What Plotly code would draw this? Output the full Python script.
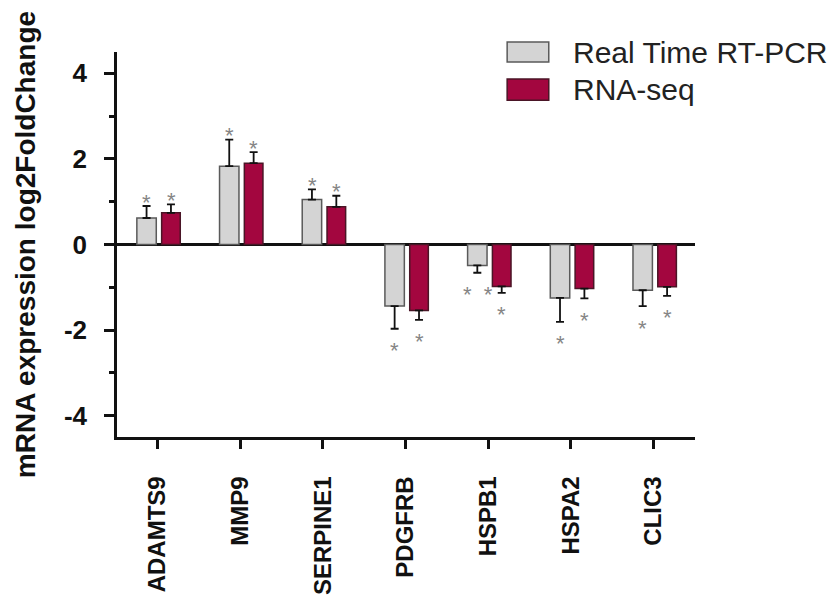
import plotly.graph_objects as go

genes = ["ADAMTS9", "MMP9", "SERPINE1", "PDGFRB", "HSPB1", "HSPA2", "CLIC3"]
rt_pcr = [0.62, 1.83, 1.05, -1.44, -0.49, -1.25, -1.07]
rt_pcr_err = [0.28, 0.62, 0.24, 0.53, 0.17, 0.56, 0.37]
rna_seq = [0.74, 1.90, 0.88, -1.54, -0.98, -1.03, -0.99]
rna_seq_err = [0.20, 0.26, 0.26, 0.22, 0.15, 0.23, 0.21]
rt_pcr_sig = ["*", "*", "*", "*", "*\u00a0\u00a0*", "*", "*"]
rna_seq_sig = ["*", "*", "*", "*", "*", "*", "*"]
y_tick_vals = [-4, -2, 0, 2, 4]
y_tick_text = ["-4", "-2", "0", "2", "4"]
series_names = ["Real Time RT-PCR", "RNA-seq"]
y_title = "mRNA expression log2FoldChange"

FONT = "Liberation Sans, Arial, Helvetica, sans-serif"
GRAY = "#d4d4d4"
GRAY_LINE = "#5a5a5a"
RED = "#a3063f"
RED_LINE = "#4a1526"

def plus_minus(vals, errs):
    plus = [e if v >= 0 else 0 for v, e in zip(vals, errs)]
    minus = [e if v < 0 else 0 for v, e in zip(vals, errs)]
    return plus, minus

fig = go.Figure()

specs = [
    (rt_pcr, rt_pcr_err, GRAY, GRAY_LINE, -0.25, 0.235, series_names[0]),
    (rna_seq, rna_seq_err, RED, RED_LINE, 0.05, 0.225, series_names[1]),
]
for vals, errs, fill, line, off, w, name in specs:
    p, m = plus_minus(vals, errs)
    fig.add_trace(go.Bar(
        x=genes, y=vals, name=name, offset=off, width=w,
        marker=dict(color=fill, line=dict(color=line, width=1.5)),
        error_y=dict(type="data", symmetric=False, array=p, arrayminus=m,
                     color="#111111", thickness=1.8, width=4),
        showlegend=False,
    ))

annotations = []
for sig, vals, errs, cx in [(rt_pcr_sig, rt_pcr, rt_pcr_err, -0.13),
                            (rna_seq_sig, rna_seq, rna_seq_err, 0.165)]:
    for i, (s, v, e) in enumerate(zip(sig, vals, errs)):
        end = v + e if v >= 0 else v - e
        annotations.append(dict(
            x=i + cx, y=end, xref="x", yref="y", text=s, showarrow=False,
            font=dict(family=FONT, size=22, color="#858585"),
            xanchor="center", yanchor="middle",
            yshift=4 if v >= 0 else -22,
        ))

# manual legend
annotations += [
    dict(x=0.786, y=1.0, xref="paper", yref="paper", text=series_names[0],
         showarrow=False, xanchor="left", yanchor="middle",
         font=dict(family=FONT, size=30, color="#222222")),
    dict(x=0.786, y=0.903, xref="paper", yref="paper", text=series_names[1],
         showarrow=False, xanchor="left", yanchor="middle",
         font=dict(family=FONT, size=30, color="#222222")),
]
# y-axis title
annotations.append(dict(
    x=-0.158, y=0.5, xref="paper", yref="paper", text=y_title, textangle=-90,
    showarrow=False, xanchor="center", yanchor="middle",
    font=dict(family=FONT, size=28, color="#111111", weight="bold"),
))
shapes = [
    dict(type="rect", xref="paper", yref="paper", x0=0.675, x1=0.747,
         y0=0.974, y1=1.026, fillcolor=GRAY, line=dict(color=GRAY_LINE, width=1.5)),
    dict(type="rect", xref="paper", yref="paper", x0=0.675, x1=0.747,
         y0=0.875, y1=0.930, fillcolor=RED, line=dict(color=RED_LINE, width=1.5)),
]

# the page body adds an 8px offset, so the figure is sized to fit the window
fig.update_layout(
    width=831, height=591,
    margin=dict(l=109, r=144, t=44, b=162),
    paper_bgcolor="white", plot_bgcolor="white",
    annotations=annotations, shapes=shapes,
    font=dict(family=FONT, color="#111111"),
)
fig.update_xaxes(
    type="category", range=[-0.49, 6.5], automargin=False,
    showline=True, linecolor="#111111", linewidth=2.5,
    ticks="outside", ticklen=9, tickwidth=2.5, tickcolor="#111111",
    tickangle=-90, showgrid=False, zeroline=False, ticklabelstandoff=18,
    tickfont=dict(family=FONT, size=24, color="#111111", weight="bold"),
)
fig.update_yaxes(
    range=[-4.5, 4.5], tickvals=y_tick_vals, ticktext=y_tick_text, automargin=False,
    showline=True, linecolor="#111111", linewidth=2.5,
    ticks="outside", ticklen=10, tickwidth=2.5, tickcolor="#111111",
    minor=dict(dtick=1, ticks="outside", ticklen=5, tickwidth=2.5, tickcolor="#111111"),
    showgrid=False, zeroline=True, zerolinecolor="#111111", zerolinewidth=2.5,
    ticklabelstandoff=12,
    tickfont=dict(family=FONT, size=26, color="#111111", weight="bold"),
)

fig.write_html("out.html")
